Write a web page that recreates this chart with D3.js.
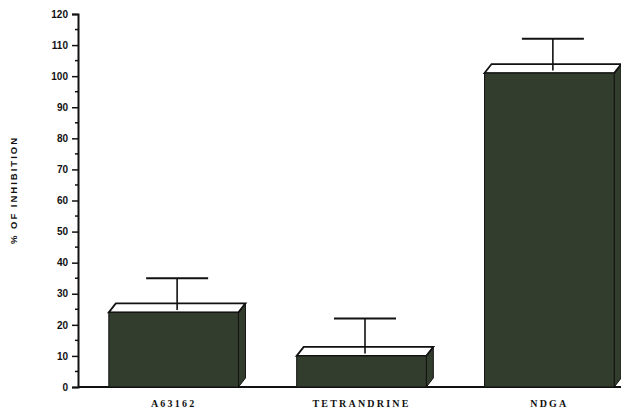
<!DOCTYPE html>
<html>
<head>
<meta charset="utf-8">
<script src="https://cdn.jsdelivr.net/npm/d3@7"></script>
<style>
body{margin:0;background:#fff;}
svg{display:block;}
</style>
</head>
<body>
<svg width="621" height="411"></svg>
<script>
// data
var categories=["A63162","TETRANDRINE","NDGA"];
var inhibition=[24,10,101];
var errorUp=[11,12,11];
var yTicks=[0,10,20,30,40,50,60,70,80,90,100,110,120];

var svg=d3.select("svg");
var depthX=7, depthY=-9;
var barColor="#333d2d";

var y=d3.scaleLinear().domain([0,120]).range([387,14]);
var x=d3.scaleBand().domain(categories)
    .range([78,645])
    .paddingInner(0.31)
    .paddingOuter(0.164);

// baseline
svg.append("line")
    .attr("x1",78).attr("x2",621)
    .attr("y1",y(0)).attr("y2",y(0))
    .attr("stroke","#111").attr("stroke-width",2);

// y axis
var yAxis=d3.axisLeft(y).tickValues(yTicks).tickSize(6).tickPadding(4);
var gy=svg.append("g").attr("transform","translate(78,0)").call(yAxis);
gy.select(".domain").attr("stroke","#111").attr("stroke-width",2);
gy.selectAll(".tick line").attr("stroke","#111").attr("stroke-width",1.5);
gy.selectAll(".tick text")
    .style("font-family","'Liberation Sans',Arial,sans-serif")
    .style("font-weight","bold")
    .style("font-size","10px")
    .attr("fill","#111");

// minor ticks
var minor=d3.range(5,120,10);
svg.append("g").selectAll("line.minor")
    .data(minor).enter()
    .append("line")
    .attr("class","minor")
    .attr("x1",75).attr("x2",78)
    .attr("y1",function(d){return y(d);})
    .attr("y2",function(d){return y(d);})
    .attr("stroke","#111").attr("stroke-width",1.5);

var rows=categories.map(function(c,i){return {name:c,value:inhibition[i],err:errorUp[i]};});

var gBars=svg.selectAll("g.bar")
    .data(rows).enter()
    .append("g").attr("class","bar");

// side face
gBars.append("polygon")
    .attr("points",function(d){
        var x1=x(d.name)+x.bandwidth(), yt=y(d.value), yb=y(0);
        return [[x1,yt],[x1+depthX,yt+depthY],[x1+depthX,yb+depthY],[x1,yb]].join(" ");
    })
    .attr("fill",barColor).attr("stroke","#111").attr("stroke-width",1);

// top face
gBars.append("polygon")
    .attr("points",function(d){
        var x0=x(d.name), x1=x0+x.bandwidth(), yt=y(d.value);
        return [[x0,yt],[x0+depthX,yt+depthY],[x1+depthX,yt+depthY],[x1,yt]].join(" ");
    })
    .attr("fill","#fff").attr("stroke","#111").attr("stroke-width",1.8);

// front face
gBars.append("rect")
    .attr("x",function(d){return x(d.name);})
    .attr("y",function(d){return y(d.value);})
    .attr("width",x.bandwidth())
    .attr("height",function(d){return y(0)-y(d.value);})
    .attr("fill",barColor).attr("stroke","#111").attr("stroke-width",1);

// error bars
gBars.append("line")
    .attr("x1",function(d){return x(d.name)+x.bandwidth()/2+depthX/2;})
    .attr("x2",function(d){return x(d.name)+x.bandwidth()/2+depthX/2;})
    .attr("y1",function(d){return y(d.value)+depthY/2+2;})
    .attr("y2",function(d){return y(d.value+d.err);})
    .attr("stroke","#111").attr("stroke-width",1.6);

gBars.append("line")
    .attr("x1",function(d){return x(d.name)+x.bandwidth()/2+depthX/2-31;})
    .attr("x2",function(d){return x(d.name)+x.bandwidth()/2+depthX/2+31;})
    .attr("y1",function(d){return y(d.value+d.err);})
    .attr("y2",function(d){return y(d.value+d.err);})
    .attr("stroke","#111").attr("stroke-width",2);

// category labels
gBars.append("text")
    .attr("x",function(d){return x(d.name)+x.bandwidth()/2;})
    .attr("y",407)
    .attr("text-anchor","middle")
    .style("font-family","'Liberation Serif','Times New Roman',serif")
    .style("font-weight","bold")
    .style("font-size","10px")
    .style("letter-spacing","2.2px")
    .attr("fill","#111")
    .text(function(d){return d.name;});

// y label
svg.append("text")
    .attr("transform","translate(17,190) rotate(-90)")
    .attr("text-anchor","middle")
    .style("font-family","'Liberation Sans',Arial,sans-serif")
    .style("font-weight","bold")
    .style("font-size","9.5px")
    .style("letter-spacing","2px")
    .attr("fill","#111")
    .text("% OF INHIBITION");
</script>
</body>
</html>
